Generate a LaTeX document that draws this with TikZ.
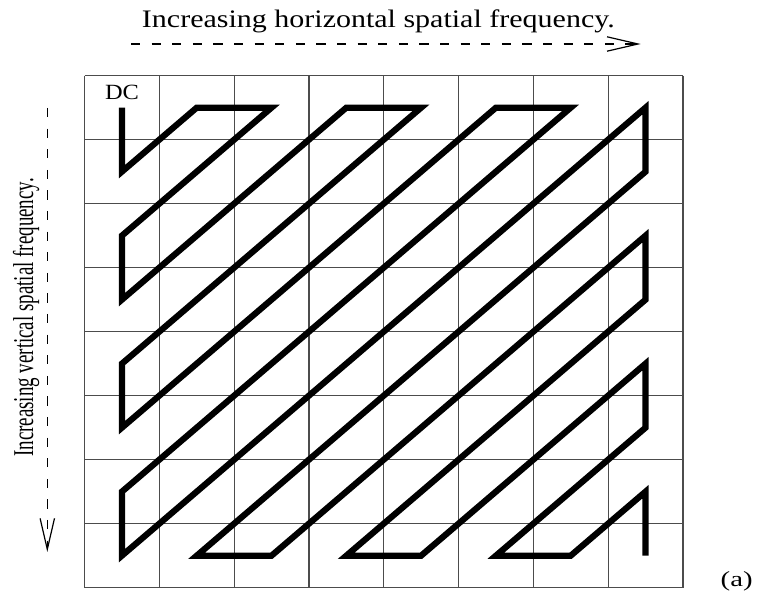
\documentclass[tikz,border=0pt]{standalone}
\usepackage{fontspec}
\setmainfont{Liberation Serif}
\usepackage{tikz}
\usetikzlibrary{arrows.meta}

\begin{document}
\begin{tikzpicture}[
  x=0.5pt, y=-0.5pt,
  gridline/.style={draw=black!70, line width=0.6pt},
  zigzag/.style={line width=3.1pt, line join=miter},
  freq/.style={line width=0.7pt, dash pattern=on 4.6pt off 5.7pt,
    -{Straight Barb[length=15.5pt, width=7.2pt, line width=0.6pt]}},
  lbl/.style={inner sep=0pt}
]
\useasboundingbox (0,0) rectangle (757,598);

% --- 8x8 grid of coefficients
\foreach \i in {0,...,8}
  \draw[gridline] ({84.5+74.8*\i},75.7) -- ++(0,512);
\foreach \j in {0,...,8}
  \draw[gridline] (84.5,{75.7+64*\j}) -- ++(598.4,0);

% --- cell centres p<col><row>
\foreach \c in {0,...,7}
  \foreach \r in {0,...,7}
    \coordinate (p\c\r) at ({84.5+74.8*(\c+0.5)},{75.7+64*(\r+0.5)});

% --- zig-zag scan
\draw[zigzag] (p00) -- (p01) -- (p10) -- (p20) -- (p02) -- (p03) -- (p30) -- (p40)
  -- (p04) -- (p05) -- (p50) -- (p60) -- (p06) -- (p07) -- (p70) -- (p71)
  -- (p17) -- (p27) -- (p72) -- (p73) -- (p37) -- (p47) -- (p74) -- (p75)
  -- (p57) -- (p67) -- (p76) -- (p77);

% --- labels
\node[lbl, anchor=base] (dc) at (122,99.7) {\scalebox{1}[0.89]{\fontsize{12.2}{14}\selectfont DC}};
\node[lbl, anchor=base] (title) at (378.4,28)
  {\scalebox{1}[0.84]{\fontsize{15}{18}\selectfont Increasing horizontal spatial frequency.}};
\node[lbl, anchor=base, rotate=90] (vtitle) at (33,317.5)
  {\scalebox{0.66}[1]{\fontsize{14.35}{17}\selectfont Increasing vertical spatial frequency.}};
\node[lbl] (tag) at (736.7,581.7) {\scalebox{1}[0.75]{\fontsize{14.4}{17}\selectfont (a)}};

% --- frequency arrows
\coordinate (hstart) at (131,44);
\coordinate (hend) at (640.7,44);
\coordinate (vstart) at (47.3,108);
\coordinate (vend) at (47.3,552);
\draw[freq] (hstart) -- (hend);
\draw[freq] (vstart) -- (vend);
\end{tikzpicture}
\end{document}
